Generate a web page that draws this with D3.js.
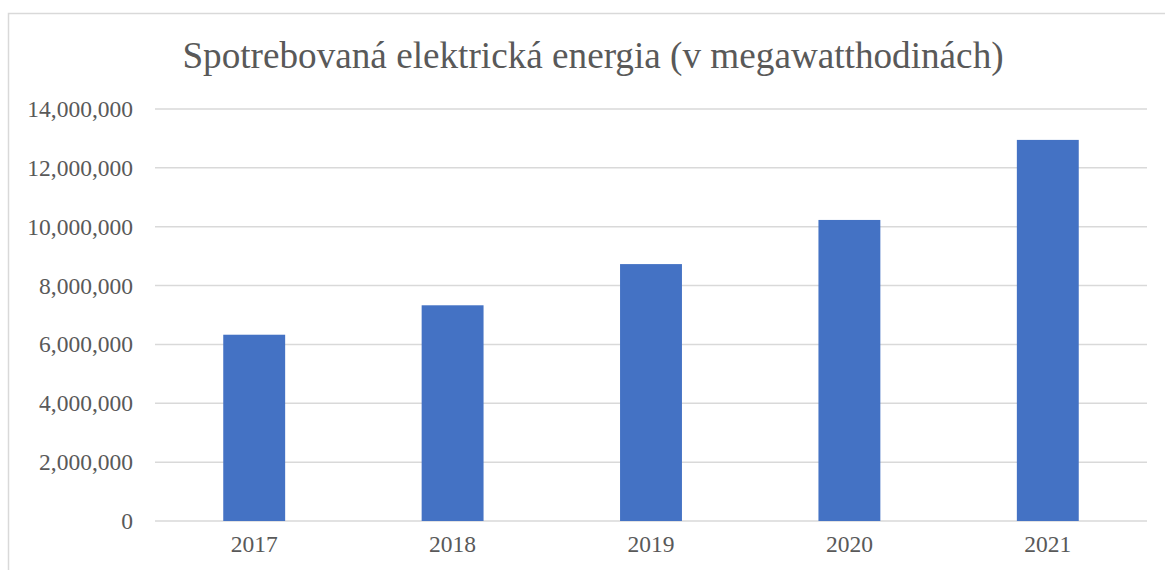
<!DOCTYPE html>
<html>
<head>
<meta charset="utf-8">
<script src="https://cdn.jsdelivr.net/npm/d3@7"></script>
<style>
  html, body { margin: 0; padding: 0; background: #fff; }
  svg { display: block; }
  text { font-family: "Liberation Serif", "Times New Roman", serif; fill: #595959; }
</style>
</head>
<body>
<svg id="chart" width="1165" height="570"></svg>
<script>
const title = "Spotrebovaná elektrická energia (v megawatthodinách)";
const categories = ["2017", "2018", "2019", "2020", "2021"];
const values = [6330000, 7330000, 8730000, 10230000, 12950000];
const yTicks = [0, 2000000, 4000000, 6000000, 8000000, 10000000, 12000000, 14000000];

const W = 1165, H = 570;
const margin = { left: 155, right: 18, top: 109, bottom: 49 };
const svg = d3.select("#chart");

// chart area border
svg.append("rect")
  .attr("x", 8.5).attr("y", 13.5)
  .attr("width", W + 10).attr("height", H + 10)
  .attr("fill", "none").attr("stroke", "#d9d9d9").attr("stroke-width", 1.5);

const x = d3.scaleBand().domain(categories)
  .range([margin.left, W - margin.right])
  .paddingInner(0.688).paddingOuter(0.344);
const y = d3.scaleLinear().domain([0, 14000000])
  .range([H - margin.bottom, margin.top]);

// gridlines
svg.append("g").selectAll("line").data(yTicks).join("line")
  .attr("x1", margin.left).attr("x2", W - margin.right)
  .attr("y1", d => y(d)).attr("y2", d => y(d))
  .attr("stroke", "#d9d9d9").attr("stroke-width", 1.5);

// y axis labels
const yAxis = d3.axisLeft(y).tickValues(yTicks).tickSize(0).tickPadding(22)
  .tickFormat(d3.format(","));
const gy = svg.append("g").attr("transform", `translate(${margin.left},0)`).call(yAxis);
gy.select(".domain").remove();
gy.selectAll("text").attr("font-size", 23.5).attr("font-family", "Liberation Serif").attr("fill", "#595959");

// bars
svg.append("g").selectAll("rect").data(categories).join("rect")
  .attr("x", d => x(d)).attr("width", x.bandwidth())
  .attr("y", (d, i) => y(values[i]))
  .attr("height", (d, i) => y(0) - y(values[i]))
  .attr("fill", "#4472c4");

// x axis labels
const xAxis = d3.axisBottom(x).tickSize(0).tickPadding(14);
const gx = svg.append("g").attr("transform", `translate(0,${y(0)})`).call(xAxis);
gx.select(".domain").remove();
gx.selectAll("text").attr("font-size", 23.5).attr("font-family", "Liberation Serif").attr("fill", "#595959");

// title
svg.append("text")
  .attr("x", 593).attr("y", 68)
  .attr("text-anchor", "middle")
  .attr("font-size", 37.2)
  .text(title);
</script>
</body>
</html>
